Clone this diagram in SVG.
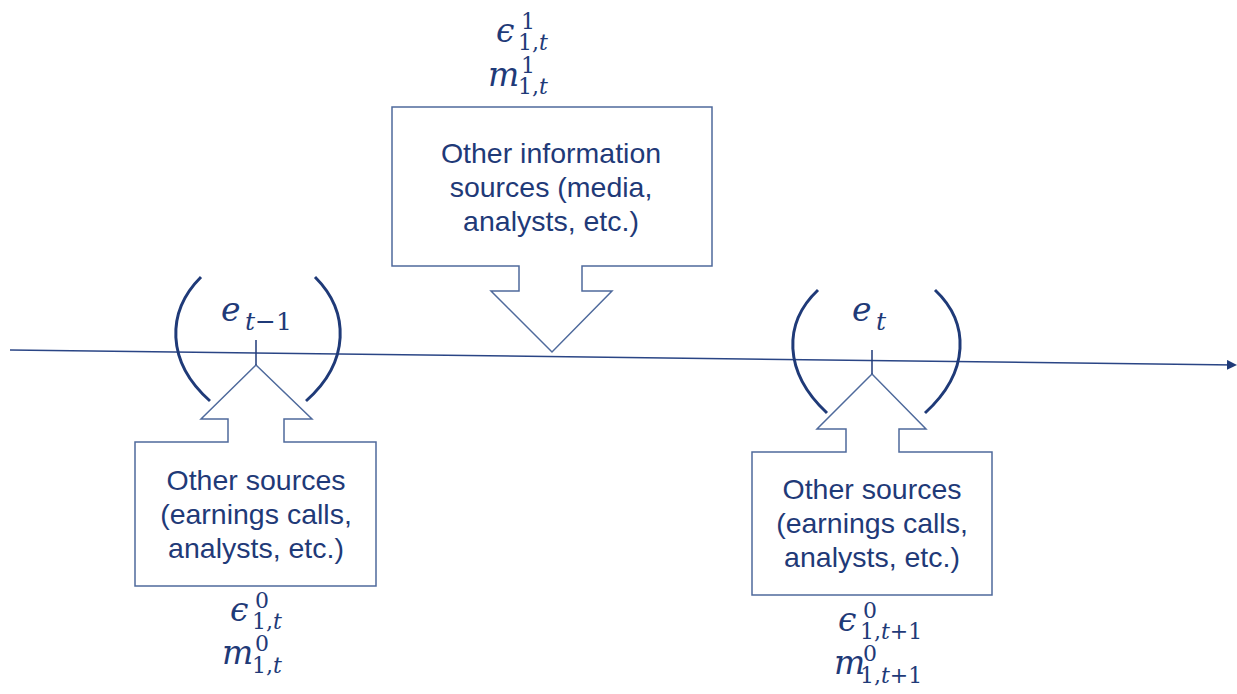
<svg xmlns="http://www.w3.org/2000/svg" width="1237" height="694" viewBox="0 0 1237 694">
<style>
.box{fill:#fff;stroke:#4f6a9c;stroke-width:1.5}
.lbl{font-family:"Liberation Sans",Arial,sans-serif;font-size:28.5px;fill:#1f3a78;text-anchor:middle}
.m{font-family:"DejaVu Serif","Liberation Serif",serif;font-style:italic;fill:#1f3a78;font-size:33px}
.s{font-size:22px}
.up{font-style:normal}
.paren{fill:none;stroke:#1f3a78;stroke-width:3}
.tick{stroke:#1f3a78;stroke-width:1.5}
.axis{stroke:#2a4585;stroke-width:1.5;fill:none}
</style>
<defs>
<marker id="ah" markerWidth="10" markerHeight="10" refX="8" refY="5" orient="auto" markerUnits="userSpaceOnUse">
<path d="M0,0 L10,5 L0,10 Z" fill="#1f3a78"/>
</marker>
</defs>
<g id="connectors">
<line class="axis" x1="10" y1="350" x2="1235" y2="365" marker-end="url(#ah)"/>
</g>
<g id="node-top">
<path class="box" d="M392,107 L712,107 L712,266 L582,266 L582,291 L612,291 L552,352 L491,291 L519,291 L519,266 L392,266 Z"/>
<text class="lbl" x="551" y="163">Other information</text>
<text class="lbl" x="551" y="197">sources (media,</text>
<text class="lbl" x="551" y="231">analysts, etc.)</text>
<text class="m"><tspan x="496" y="42">ϵ</tspan><tspan class="s up" x="521" y="29">1</tspan><tspan class="s up" x="518" y="50">1,</tspan><tspan class="s">t</tspan></text>
<text class="m"><tspan x="488" y="86">m</tspan><tspan class="s up" x="521" y="73">1</tspan><tspan class="s up" x="518" y="94">1,</tspan><tspan class="s">t</tspan></text>
</g>
<g id="node-left">
<path class="box" d="M135,442 L228,442 L228,419 L201,419 L256,365 L312,419 L284,419 L284,442 L376,442 L376,586 L135,586 Z"/>
<line class="tick" x1="256" y1="340" x2="256" y2="365"/>
<path class="paren" d="M201,277 C166,312 166,362 210,401"/>
<path class="paren" d="M315,277 C350,312 350,362 306,401"/>
<text class="m" font-size="37"><tspan x="221" y="321">e</tspan><tspan font-size="25" x="245" y="330">t</tspan><tspan font-size="25" class="up">−1</tspan></text>
<text class="lbl" x="256" y="490">Other sources</text>
<text class="lbl" x="256" y="524">(earnings calls,</text>
<text class="lbl" x="256" y="558">analysts, etc.)</text>
<text class="m"><tspan x="230" y="621">ϵ</tspan><tspan class="s up" x="255" y="608">0</tspan><tspan class="s up" x="252" y="629">1,</tspan><tspan class="s">t</tspan></text>
<text class="m"><tspan x="222" y="664">m</tspan><tspan class="s up" x="255" y="651">0</tspan><tspan class="s up" x="252" y="673">1,</tspan><tspan class="s">t</tspan></text>
</g>
<g id="node-right">
<path class="box" d="M752,452 L846,452 L846,429 L817,429 L872,374 L926,429 L899,429 L899,452 L992,452 L992,595 L752,595 Z"/>
<line class="tick" x1="872" y1="350" x2="872" y2="374"/>
<path class="paren" d="M818,290 C783,323 783,372 827,413"/>
<path class="paren" d="M935,290 C970,323 970,372 925,413"/>
<text class="m" font-size="37"><tspan x="852" y="321">e</tspan><tspan font-size="25" x="876" y="330">t</tspan></text>
<text class="lbl" x="872" y="499">Other sources</text>
<text class="lbl" x="872" y="533">(earnings calls,</text>
<text class="lbl" x="872" y="567">analysts, etc.)</text>
<text class="m"><tspan x="838" y="631">ϵ</tspan><tspan class="s up" x="863" y="618">0</tspan><tspan class="s up" x="860" y="639">1,</tspan><tspan class="s">t</tspan><tspan class="s up">+1</tspan></text>
<text class="m"><tspan x="834" y="674">m</tspan><tspan class="s up" x="863" y="661">0</tspan><tspan class="s up" x="860" y="683">1,</tspan><tspan class="s">t</tspan><tspan class="s up">+1</tspan></text>
</g>
</svg>
